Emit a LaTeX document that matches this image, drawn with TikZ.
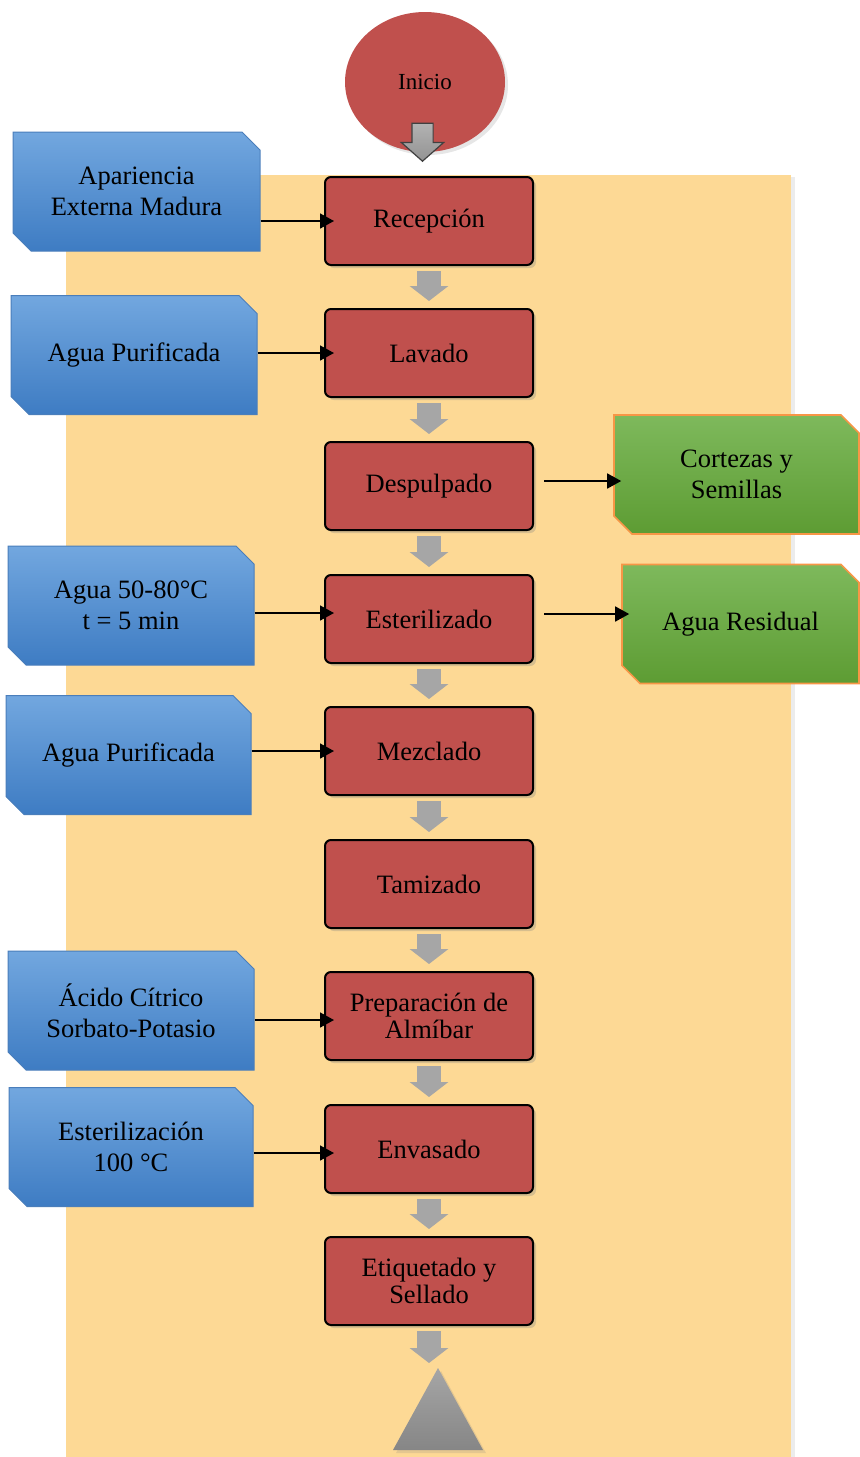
\documentclass[tikz,border=0pt]{standalone}
\usepackage{fontspec}
\setmainfont{Liberation Serif}
\usetikzlibrary{shapes.geometric,shapes.misc,shapes.arrows,shadows,arrows.meta}
\definecolor{rojo}{HTML}{C0504D}
\definecolor{fondo}{HTML}{FDD995}
\definecolor{azulA}{HTML}{72A7DF}
\definecolor{azulB}{HTML}{5096DB}
\definecolor{azulC}{HTML}{3E7CC3}
\definecolor{azulL}{HTML}{4A7EBB}
\definecolor{verdeA}{HTML}{7EB95C}
\definecolor{verdeB}{HTML}{5D9C33}
\definecolor{naranja}{HTML}{F79646}
\definecolor{gris}{HTML}{A6A6A6}
\begin{document}
\begin{tikzpicture}[x=0.5pt,y=-0.5pt,
  proc/.style={rectangle, rounded corners=3pt, draw=black, line width=1pt, fill=rojo,
    minimum width=104pt, minimum height=44pt, align=center,
    font=\fontsize{13.25}{13.5}\selectfont,
    drop shadow={shadow xshift=1.5pt, shadow yshift=-1.5pt, opacity=0.3}},
  caja/.style={chamfered rectangle, chamfered rectangle corners={north east,south west},
    chamfered rectangle xsep=4.5pt, chamfered rectangle ysep=4.5pt,
    minimum height=59.5pt, align=center, font=\fontsize{13.25}{15.5}\selectfont},
  entrada/.style={caja, draw=azulL, line width=0.5pt, top color=azulA, middle color=azulB, bottom color=azulC},
  salida/.style={caja, draw=naranja, line width=0.8pt, top color=verdeA, bottom color=verdeB},
  flujo/.style={gris, line width=12pt, -{Triangle[width=19pt,length=7.5pt]}, shorten <=2.5pt, shorten >=3.5pt},
  entra/.style={line width=0.8pt, -{Triangle[length=7pt,width=7.5pt]}, shorten >=-5pt},
  sale/.style={line width=0.8pt, -{Triangle[length=7pt,width=7.5pt]}, shorten <=5pt, shorten >=-4pt}]
\useasboundingbox (0,0) rectangle (859,1457);
\fill[fondo, drop shadow={shadow xshift=2pt, shadow yshift=-1pt, opacity=0.15}] (66,175) rectangle (791,1457);

\node[ellipse, fill=rojo, minimum width=80pt, minimum height=70pt, font=\fontsize{11.5}{13}\selectfont,
  drop shadow={shadow xshift=1.5pt, shadow yshift=-1.5pt, opacity=0.2}] (inicio) at (425,82) {Inicio};
\node[single arrow, shape border rotate=270, anchor=tip, inner sep=5pt, minimum height=19pt,
  single arrow head extend=5.25pt, single arrow tip angle=97, draw=black!75, line width=0.6pt,
  top color=gray!60, bottom color=gray!85] (bajar) at (422.5,162) {};

\node[proc] (rec) at (429,221) {Recepción};
\node[proc] (lav) at (429,353) {Lavado};
\node[proc] (desp) at (429,486) {Despulpado};
\node[proc] (est) at (429,619) {Esterilizado};
\node[proc] (mez) at (429,751) {Mezclado};
\node[proc] (tam) at (429,884) {Tamizado};
\node[proc] (prep) at (429,1016) {Preparación de\\Almíbar};
\node[proc] (env) at (429,1149) {Envasado};
\node[proc] (eti) at (429,1281) {Etiquetado y\\Sellado};
\coordinate (fin) at (438,1368);
\shade[top color=gray!70, bottom color=gray!95, drop shadow={shadow xshift=1.5pt, shadow yshift=-1.5pt, opacity=0.2}]
  (fin) -- ++(45,82) -- ++(-90,0) -- cycle;

\node[entrada, minimum width=123.5pt] (in1) at (136.5,191.5) {Apariencia\\Externa Madura};
\node[entrada, minimum width=123pt] (in2) at (134,355) {Agua Purificada};
\node[entrada, minimum width=123pt] (in3) at (131,605.5) {Agua 50-80°C\\t = 5 min};
\node[entrada, minimum width=122.5pt] (in4) at (128.5,755) {Agua Purificada};
\node[entrada, minimum width=123pt] (in5) at (131,1010.5) {Ácido Cítrico\\Sorbato-Potasio};
\node[entrada, minimum width=122pt] (in6) at (131,1147) {Esterilización\\100 °C};
\node[salida, minimum width=122.5pt] (out1) at (736.5,474.5) {Cortezas y\\Semillas};
\node[salida, minimum width=118.5pt] (out2) at (740.5,624) {Agua Residual};

\draw[flujo] (rec.south) -- (lav.north);
\draw[flujo] (lav.south) -- (desp.north);
\draw[flujo] (desp.south) -- (est.north);
\draw[flujo] (est.south) -- (mez.north);
\draw[flujo] (mez.south) -- (tam.north);
\draw[flujo] (tam.south) -- (prep.north);
\draw[flujo] (prep.south) -- (env.north);
\draw[flujo] (env.south) -- (eti.north);
\draw[flujo, shorten >=2.5pt] (eti.south) -- (eti.south |- fin);

\draw[entra] (rec.west -| in1.east) -- (rec.west);
\draw[entra] (lav.west -| in2.east) -- (lav.west);
\draw[entra] ([yshift=3pt]est.west -| in3.east) -- ([yshift=3pt]est.west);
\draw[entra] (mez.west -| in4.east) -- (mez.west);
\draw[entra] ([yshift=-2pt]prep.west -| in5.east) -- ([yshift=-2pt]prep.west);
\draw[entra] ([yshift=-2pt]env.west -| in6.east) -- ([yshift=-2pt]env.west);
\draw[sale] ([yshift=2.5pt]desp.east) -- ([yshift=2.5pt]desp.east -| out1.west);
\draw[sale] ([yshift=2.5pt]est.east) -- ([yshift=2.5pt]est.east -| out2.west);
\end{tikzpicture}
\end{document}
